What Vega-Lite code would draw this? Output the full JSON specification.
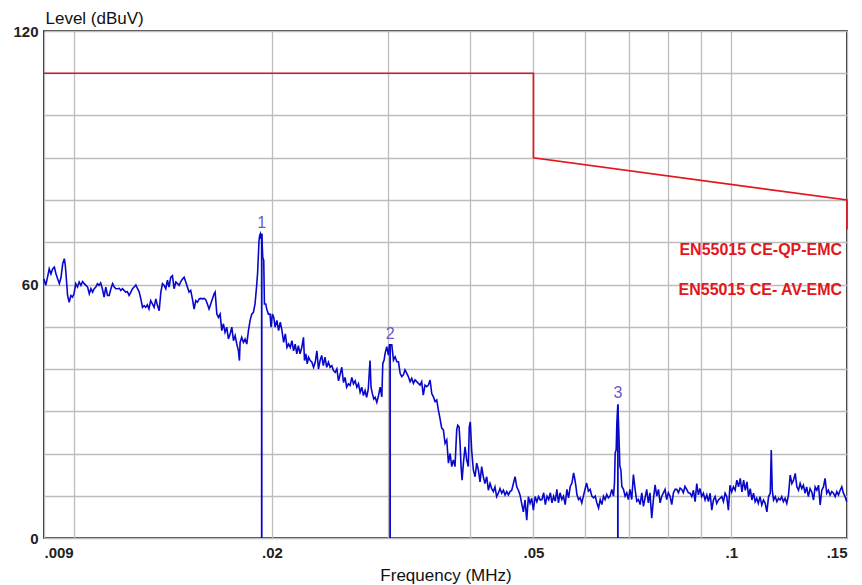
{
"$schema":"https://vega.github.io/schema/vega-lite/v6.json",
"width":803,"height":507,
"autosize":"none",
"padding":{"left":44,"top":31,"right":15,"bottom":47},
"background":"white",
"config":{"view":{"stroke":"#000000","strokeWidth":1.6},"font":"Liberation Sans"},
"datasets":{
"trace":[
{"f":0.009000,"v":61.3},{"f":0.009055,"v":59.8},{"f":0.009111,"v":61.7},{"f":0.009166,"v":63.7},{"f":0.009222,"v":62.5},{"f":0.009277,"v":63.7},{"f":0.009332,"v":64.1},{"f":0.009388,"v":62.5},{"f":0.009443,"v":61.3},{"f":0.009498,"v":60.2},{"f":0.009554,"v":61.7},{"f":0.009609,"v":64.9},{"f":0.009664,"v":66.1},{"f":0.009698,"v":64.5},{"f":0.009742,"v":60.6},{"f":0.009775,"v":57.4},{"f":0.009830,"v":55.8},{"f":0.009889,"v":57.4},{"f":0.009945,"v":57.0},{"f":0.009997,"v":57.8},
{"f":0.010058,"v":60.2},{"f":0.010119,"v":59.4},{"f":0.010180,"v":60.6},{"f":0.010242,"v":59.8},{"f":0.010303,"v":60.7},{"f":0.010364,"v":60.2},{"f":0.010425,"v":59.8},{"f":0.010486,"v":59.4},{"f":0.010548,"v":57.8},{"f":0.010609,"v":59.0},{"f":0.010670,"v":58.2},{"f":0.010732,"v":59.0},{"f":0.010793,"v":59.4},{"f":0.010854,"v":60.2},{"f":0.010915,"v":59.8},{"f":0.010977,"v":60.4},
{"f":0.011042,"v":59.0},{"f":0.011109,"v":57.0},{"f":0.011176,"v":59.4},{"f":0.011243,"v":57.4},{"f":0.011310,"v":57.4},{"f":0.011378,"v":59.0},{"f":0.011445,"v":60.2},{"f":0.011512,"v":59.4},{"f":0.011579,"v":59.0},{"f":0.011646,"v":59.0},{"f":0.011714,"v":59.1},{"f":0.011781,"v":58.6},{"f":0.011848,"v":59.0},{"f":0.011915,"v":58.6},{"f":0.011983,"v":58.2},
{"f":0.012054,"v":58.3},{"f":0.012127,"v":57.4},{"f":0.012200,"v":58.2},{"f":0.012272,"v":59.0},{"f":0.012345,"v":59.4},{"f":0.012418,"v":59.9},{"f":0.012490,"v":59.0},{"f":0.012563,"v":58.2},{"f":0.012636,"v":56.6},{"f":0.012709,"v":54.6},{"f":0.012782,"v":55.0},{"f":0.012855,"v":54.6},{"f":0.012927,"v":55.2},
{"f":0.013000,"v":54.2},{"f":0.013079,"v":56.2},{"f":0.013158,"v":55.4},{"f":0.013237,"v":54.6},{"f":0.013316,"v":56.6},{"f":0.013395,"v":55.0},{"f":0.013474,"v":53.8},{"f":0.013553,"v":58.2},{"f":0.013632,"v":60.2},{"f":0.013711,"v":59.8},{"f":0.013790,"v":59.0},{"f":0.013869,"v":61.0},{"f":0.013948,"v":59.4},
{"f":0.014029,"v":61.7},{"f":0.014113,"v":62.1},{"f":0.014198,"v":59.0},{"f":0.014283,"v":60.6},{"f":0.014367,"v":60.2},{"f":0.014452,"v":59.8},{"f":0.014537,"v":60.7},{"f":0.014621,"v":61.3},{"f":0.014706,"v":61.7},{"f":0.014790,"v":60.6},{"f":0.014875,"v":59.4},{"f":0.014959,"v":58.2},
{"f":0.015047,"v":58.6},{"f":0.015138,"v":56.6},{"f":0.015228,"v":54.2},{"f":0.015319,"v":56.2},{"f":0.015409,"v":55.8},{"f":0.015500,"v":56.6},{"f":0.015591,"v":56.7},{"f":0.015681,"v":56.6},{"f":0.015772,"v":56.7},{"f":0.015862,"v":56.4},{"f":0.015953,"v":55.4},
{"f":0.016046,"v":54.2},{"f":0.016143,"v":55.4},{"f":0.016239,"v":56.6},{"f":0.016335,"v":57.8},{"f":0.016393,"v":58.2},{"f":0.016490,"v":53.0},{"f":0.016586,"v":52.2},{"f":0.016682,"v":53.0},{"f":0.016779,"v":49.1},{"f":0.016875,"v":50.7},{"f":0.016971,"v":48.7},
{"f":0.017072,"v":49.9},{"f":0.017174,"v":47.1},{"f":0.017276,"v":48.3},{"f":0.017379,"v":49.9},{"f":0.017480,"v":46.7},{"f":0.017583,"v":47.9},{"f":0.017685,"v":45.9},{"f":0.017787,"v":44.3},{"f":0.017848,"v":42.0},{"f":0.017890,"v":46.3},{"f":0.017992,"v":47.5},
{"f":0.018099,"v":46.3},{"f":0.018206,"v":47.1},{"f":0.018314,"v":45.9},{"f":0.018421,"v":49.1},{"f":0.018529,"v":51.5},{"f":0.018637,"v":53.0},{"f":0.018744,"v":53.4},{"f":0.018852,"v":55.4},{"f":0.018959,"v":59.7},
{"f":0.019025,"v":62.9},{"f":0.019116,"v":70.4},{"f":0.019162,"v":71.6},{"f":0.019208,"v":72.0},{"f":0.019253,"v":70.8},{"f":0.019299,"v":72.0},{"f":0.019368,"v":66.4},{"f":0.019436,"v":65.7},{"f":0.019482,"v":55.4},{"f":0.019573,"v":55.4},{"f":0.019642,"v":54.2},{"f":0.019755,"v":53.0},{"f":0.019870,"v":53.0},{"f":0.019938,"v":49.9},
{"f":0.020032,"v":53.0},{"f":0.020130,"v":52.2},{"f":0.020228,"v":49.9},{"f":0.020351,"v":51.5},{"f":0.020473,"v":49.1},{"f":0.020596,"v":51.1},{"f":0.020718,"v":49.1},{"f":0.020840,"v":46.3},{"f":0.020963,"v":48.3},{"f":0.021086,"v":45.1},{"f":0.021208,"v":45.9},{"f":0.021331,"v":45.1},{"f":0.021453,"v":46.7},{"f":0.021576,"v":44.3},{"f":0.021699,"v":45.9},{"f":0.021821,"v":43.6},{"f":0.021943,"v":45.5},
{"f":0.022072,"v":43.6},{"f":0.022206,"v":45.1},{"f":0.022340,"v":47.5},{"f":0.022420,"v":42.0},{"f":0.022528,"v":43.6},{"f":0.022635,"v":41.2},{"f":0.022741,"v":42.8},{"f":0.022875,"v":42.0},{"f":0.023010,"v":41.6},{"f":0.023143,"v":40.4},{"f":0.023277,"v":41.6},{"f":0.023411,"v":44.3},{"f":0.023545,"v":40.0},{"f":0.023679,"v":42.0},{"f":0.023813,"v":43.2},{"f":0.023946,"v":40.8},
{"f":0.024088,"v":42.8},{"f":0.024234,"v":40.4},{"f":0.024380,"v":41.6},{"f":0.024526,"v":40.4},{"f":0.024673,"v":40.8},{"f":0.024818,"v":39.6},{"f":0.024965,"v":39.2},{"f":0.025111,"v":40.0},{"f":0.025257,"v":37.2},{"f":0.025404,"v":38.8},{"f":0.025550,"v":40.4},{"f":0.025696,"v":36.8},{"f":0.025842,"v":38.0},{"f":0.025988,"v":35.7},
{"f":0.026144,"v":36.5},{"f":0.026302,"v":36.1},{"f":0.026459,"v":38.0},{"f":0.026616,"v":36.5},{"f":0.026774,"v":37.2},{"f":0.026931,"v":35.7},{"f":0.027088,"v":36.5},{"f":0.027245,"v":34.5},{"f":0.027403,"v":35.7},{"f":0.027560,"v":33.7},{"f":0.027717,"v":34.9},{"f":0.027874,"v":33.3},
{"f":0.028034,"v":35.3},{"f":0.028204,"v":42.0},{"f":0.028306,"v":35.7},{"f":0.028442,"v":34.1},{"f":0.028579,"v":32.9},{"f":0.028714,"v":33.3},{"f":0.028885,"v":32.1},{"f":0.029054,"v":33.7},{"f":0.029224,"v":35.7},
{"f":0.029395,"v":33.4},{"f":0.029497,"v":41.3},{"f":0.029633,"v":42.1},{"f":0.029735,"v":43.7},{"f":0.029905,"v":45.3},{"f":0.030079,"v":43.3},{"f":0.030187,"v":45.7},{"f":0.030332,"v":45.7},{"f":0.030440,"v":45.7},{"f":0.030619,"v":42.1},{"f":0.030800,"v":42.9},{"f":0.030981,"v":41.7},
{"f":0.031160,"v":41.7},{"f":0.031341,"v":39.0},{"f":0.031521,"v":38.2},{"f":0.031701,"v":38.6},{"f":0.031881,"v":39.8},{"f":0.032066,"v":39.0},{"f":0.032258,"v":38.2},{"f":0.032451,"v":37.0},{"f":0.032644,"v":37.8},{"f":0.032836,"v":36.6},{"f":0.033029,"v":37.4},{"f":0.033222,"v":37.0},{"f":0.033414,"v":36.6},{"f":0.033607,"v":36.2},{"f":0.033800,"v":37.0},{"f":0.033992,"v":33.8},
{"f":0.034196,"v":36.2},{"f":0.034401,"v":35.8},{"f":0.034605,"v":36.2},{"f":0.034810,"v":37.4},{"f":0.035015,"v":34.2},{"f":0.035218,"v":33.4},{"f":0.035423,"v":32.3},{"f":0.035628,"v":32.7},{"f":0.035832,"v":30.3},
{"f":0.036039,"v":28.3},{"f":0.036256,"v":26.0},{"f":0.036471,"v":25.6},{"f":0.036688,"v":22.4},{"f":0.036905,"v":23.2},{"f":0.037121,"v":17.7},{"f":0.037338,"v":20.0},{"f":0.037555,"v":16.9},{"f":0.037770,"v":18.5},{"f":0.037986,"v":16.9},
{"f":0.038214,"v":25.6},{"f":0.038350,"v":26.7},{"f":0.038531,"v":26.3},{"f":0.038667,"v":22.4},{"f":0.038803,"v":16.9},{"f":0.038939,"v":13.7},{"f":0.039120,"v":17.7},{"f":0.039347,"v":21.6},{"f":0.039574,"v":18.5},{"f":0.039800,"v":16.9},{"f":0.039936,"v":26.3},
{"f":0.040076,"v":27.5},{"f":0.040269,"v":20.8},{"f":0.040508,"v":16.1},{"f":0.040748,"v":14.5},{"f":0.040988,"v":17.7},{"f":0.041227,"v":16.1},{"f":0.041468,"v":13.3},{"f":0.041708,"v":16.9},{"f":0.041947,"v":14.5},
{"f":0.042195,"v":12.9},{"f":0.042447,"v":14.5},{"f":0.042696,"v":11.3},{"f":0.042947,"v":12.9},{"f":0.043199,"v":11.7},{"f":0.043448,"v":11.0},{"f":0.043699,"v":12.1},{"f":0.043950,"v":9.8},
{"f":0.044211,"v":10.6},{"f":0.044476,"v":11.7},{"f":0.044741,"v":10.6},{"f":0.045005,"v":11.3},{"f":0.045270,"v":10.2},{"f":0.045535,"v":11.0},{"f":0.045798,"v":10.2},
{"f":0.046066,"v":11.0},{"f":0.046339,"v":11.3},{"f":0.046611,"v":12.9},{"f":0.046885,"v":14.5},{"f":0.047159,"v":12.1},{"f":0.047431,"v":11.3},{"f":0.047705,"v":10.2},{"f":0.047978,"v":8.2},
{"f":0.048264,"v":6.2},{"f":0.048552,"v":9.0},{"f":0.048840,"v":4.2},{"f":0.049126,"v":9.8},{"f":0.049414,"v":8.2},{"f":0.049702,"v":9.4},{"f":0.049988,"v":6.6},
{"f":0.050294,"v":9.8},{"f":0.050601,"v":8.6},{"f":0.050906,"v":9.8},{"f":0.051213,"v":9.0},{"f":0.051520,"v":9.1},{"f":0.051825,"v":10.7},{"f":0.052132,"v":7.9},{"f":0.052439,"v":9.9},{"f":0.052744,"v":9.1},{"f":0.053051,"v":10.7},{"f":0.053358,"v":8.3},{"f":0.053663,"v":9.9},{"f":0.053971,"v":8.7},{"f":0.054277,"v":11.5},{"f":0.054582,"v":8.3},{"f":0.054890,"v":10.7},
{"f":0.055215,"v":9.1},{"f":0.055548,"v":9.9},{"f":0.055884,"v":7.9},{"f":0.056219,"v":11.5},{"f":0.056552,"v":9.5},{"f":0.056888,"v":12.2},{"f":0.057223,"v":13.0},{"f":0.057556,"v":15.4},{"f":0.057757,"v":14.2},{"f":0.058026,"v":12.2},{"f":0.058227,"v":10.3},{"f":0.058560,"v":9.1},{"f":0.058896,"v":9.5},{"f":0.059231,"v":8.3},{"f":0.059564,"v":9.9},{"f":0.059900,"v":11.5},
{"f":0.060257,"v":13.0},{"f":0.060621,"v":11.1},{"f":0.060987,"v":11.5},{"f":0.061353,"v":9.9},{"f":0.061717,"v":9.5},{"f":0.062083,"v":9.9},{"f":0.062450,"v":8.3},{"f":0.062814,"v":7.1},{"f":0.063180,"v":9.1},{"f":0.063546,"v":7.9},{"f":0.063910,"v":9.9},{"f":0.064276,"v":9.1},{"f":0.064642,"v":10.3},
{"f":0.065007,"v":9.5},{"f":0.065401,"v":9.9},{"f":0.065795,"v":11.5},{"f":0.066186,"v":9.9},{"f":0.066422,"v":13.0},{"f":0.066580,"v":20.1},{"f":0.066816,"v":20.9},{"f":0.066974,"v":27.2},{"f":0.067210,"v":31.6},{"f":0.067445,"v":24.9},{"f":0.067681,"v":17.0},{"f":0.067917,"v":16.2},{"f":0.068153,"v":12.2},{"f":0.068544,"v":11.5},{"f":0.068938,"v":9.9},{"f":0.069332,"v":10.7},{"f":0.069724,"v":9.1},
{"f":0.070127,"v":11.5},{"f":0.070551,"v":9.1},{"f":0.070972,"v":15.0},{"f":0.071396,"v":11.5},{"f":0.071820,"v":8.7},{"f":0.072241,"v":9.1},{"f":0.072665,"v":7.9},{"f":0.073089,"v":10.7},{"f":0.073510,"v":7.5},{"f":0.073934,"v":9.5},{"f":0.074358,"v":11.5},{"f":0.074779,"v":8.3},
{"f":0.075217,"v":10.7},{"f":0.075671,"v":4.7},{"f":0.076122,"v":9.1},{"f":0.076576,"v":12.6},{"f":0.077030,"v":9.9},{"f":0.077481,"v":11.5},{"f":0.077934,"v":8.3},{"f":0.078388,"v":9.9},{"f":0.078839,"v":10.7},{"f":0.079293,"v":11.5},{"f":0.079747,"v":9.1},
{"f":0.080211,"v":10.7},{"f":0.080694,"v":9.9},{"f":0.081176,"v":7.9},{"f":0.081656,"v":10.7},{"f":0.082139,"v":11.5},{"f":0.082621,"v":11.5},{"f":0.083101,"v":10.7},{"f":0.083584,"v":11.8},{"f":0.084066,"v":11.5},{"f":0.084546,"v":10.7},
{"f":0.085031,"v":12.2},{"f":0.085543,"v":11.5},{"f":0.086052,"v":10.7},{"f":0.086564,"v":10.6},{"f":0.087076,"v":9.8},{"f":0.087585,"v":11.3},{"f":0.088098,"v":8.6},{"f":0.088610,"v":12.9},{"f":0.089119,"v":10.2},{"f":0.089632,"v":11.7},
{"f":0.090153,"v":9.8},{"f":0.090692,"v":10.6},{"f":0.091234,"v":9.0},{"f":0.091776,"v":10.2},{"f":0.092315,"v":8.6},{"f":0.092857,"v":10.6},{"f":0.093400,"v":6.6},{"f":0.093939,"v":9.0},{"f":0.094481,"v":9.8},
{"f":0.095024,"v":8.2},{"f":0.095588,"v":9.0},{"f":0.096156,"v":9.4},{"f":0.096724,"v":9.8},{"f":0.097289,"v":8.6},{"f":0.097857,"v":10.6},{"f":0.098425,"v":9.8},{"f":0.098989,"v":6.6},{"f":0.099558,"v":12.5},
{"f":0.100136,"v":10.9},{"f":0.100746,"v":12.1},{"f":0.101360,"v":11.3},{"f":0.101974,"v":13.7},{"f":0.102585,"v":12.1},{"f":0.103198,"v":14.1},{"f":0.103812,"v":10.9},{"f":0.104423,"v":13.7},{"f":0.105037,"v":11.3},{"f":0.105650,"v":13.3},{"f":0.106262,"v":9.8},{"f":0.106875,"v":11.7},{"f":0.107489,"v":9.0},{"f":0.108100,"v":10.6},{"f":0.108714,"v":8.6},{"f":0.109327,"v":9.4},{"f":0.109939,"v":8.2},
{"f":0.110605,"v":9.8},{"f":0.111278,"v":7.8},{"f":0.111947,"v":9.0},{"f":0.112621,"v":8.2},{"f":0.113294,"v":6.2},{"f":0.113963,"v":9.8},{"f":0.114637,"v":10.6},{"f":0.115040,"v":20.8},{"f":0.115443,"v":11.3},{"f":0.115979,"v":9.0},{"f":0.116653,"v":9.8},{"f":0.117326,"v":8.6},{"f":0.117995,"v":9.4},{"f":0.118669,"v":9.0},{"f":0.119342,"v":9.8},
{"f":0.120013,"v":8.6},{"f":0.120742,"v":9.4},{"f":0.121472,"v":8.2},{"f":0.122197,"v":10.2},{"f":0.122926,"v":14.9},{"f":0.123655,"v":12.9},{"f":0.124380,"v":13.7},{"f":0.125109,"v":15.3},{"f":0.125839,"v":12.1},{"f":0.126564,"v":11.3},{"f":0.127293,"v":12.9},{"f":0.128022,"v":11.7},{"f":0.128747,"v":12.5},{"f":0.129476,"v":10.6},
{"f":0.130223,"v":12.1},{"f":0.131009,"v":9.8},{"f":0.131801,"v":11.7},{"f":0.132592,"v":10.9},{"f":0.133379,"v":9.0},{"f":0.134170,"v":12.1},{"f":0.134962,"v":11.3},{"f":0.135748,"v":12.5},{"f":0.136540,"v":7.8},{"f":0.137331,"v":11.3},{"f":0.138118,"v":12.1},{"f":0.138910,"v":14.1},{"f":0.139701,"v":10.6},
{"f":0.140523,"v":11.3},{"f":0.141371,"v":10.2},{"f":0.142218,"v":11.0},{"f":0.143061,"v":10.6},{"f":0.143909,"v":9.8},{"f":0.144756,"v":11.0},{"f":0.145599,"v":10.2},{"f":0.146447,"v":11.3},{"f":0.147294,"v":12.1},{"f":0.148137,"v":10.6},{"f":0.148985,"v":9.8},{"f":0.149832,"v":8.6}
],
"limit":[{"i":0,"f":0.009,"v":110},{"i":1,"f":0.05,"v":110},{"i":2,"f":0.05,"v":90},{"i":3,"f":0.15,"v":80},{"i":4,"f":0.15,"v":73}],
"markers":[{"f":0.019299,"v":72.0,"n":"1"},{"f":0.030259,"v":45.7,"n":"2"},{"f":0.06721,"v":31.6,"n":"3"}],
"labels":[{"f":0.14746,"v":67.0,"t":"EN55015 CE-QP-EMC"},{"f":0.14746,"v":57.5,"t":"EN55015 CE- AV-EMC"}]
},
"encoding":{
"x":{"field":"f","type":"quantitative",
 "scale":{"type":"log","domain":[0.009,0.15],"nice":false},
 "axis":{"title":"Frequency (MHz)","values":[0.009,0.01,0.02,0.03,0.04,0.05,0.06,0.07,0.08,0.09,0.1,0.15],
  "labelExpr":"abs(datum.value-0.009)<1e-7 ? '.009' : abs(datum.value-0.02)<1e-7 ? '.02' : abs(datum.value-0.05)<1e-7 ? '.05' : abs(datum.value-0.1)<1e-7 ? '.1' : abs(datum.value-0.15)<1e-7 ? '.15' : ''",
  "labelFlush":true,"labelOverlap":false,"grid":true,"gridColor":"#bdbdbd","gridWidth":1.3,"ticks":false,"tickSize":0,"domain":false,
  "labelPadding":7,"labelFont":"Liberation Sans","labelFontWeight":"bold","labelFontSize":15,"labelColor":"#222222",
  "titleFont":"Liberation Sans","titleFontSize":17,"titleFontWeight":"normal","titleColor":"#111111","titlePadding":7}},
"y":{"field":"v","type":"quantitative",
 "scale":{"domain":[0,120],"nice":false,"zero":false},
 "axis":{"title":"Level (dBuV)","values":[0,10,20,30,40,50,60,70,80,90,100,110,120],
  "labelExpr":"datum.value == 0 || datum.value == 60 || datum.value == 120 ? datum.label : ''",
  "labelOverlap":false,"grid":true,"gridColor":"#bdbdbd","gridWidth":1.3,"ticks":false,"tickSize":0,"domain":false,
  "labelPadding":6,"labelFont":"Liberation Sans","labelFontWeight":"bold","labelFontSize":15,"labelColor":"#222222",
  "titleFont":"Liberation Sans","titleFontSize":17,"titleFontWeight":"normal","titleColor":"#111111",
  "titleAngle":0,"titleAlign":"left","titleBaseline":"alphabetic","titleX":1,"titleY":-8}}
},
"layer":[
{"data":{"name":"trace"},"mark":{"type":"line","color":"#0808cc","strokeWidth":1.6}},
{"data":{"name":"limit"},"mark":{"type":"line","color":"#e3161b","strokeWidth":1.7},"encoding":{"order":{"field":"i","type":"quantitative"}}},
{"data":{"name":"markers"},"mark":{"type":"rule","color":"#0808cc","strokeWidth":1.8},"encoding":{"y2":{"datum":0}}},
{"data":{"name":"markers"},"mark":{"type":"text","color":"#6a58cc","fontSize":16,"font":"Liberation Sans","baseline":"bottom","dy":-3},"encoding":{"text":{"field":"n"}}},
{"data":{"name":"labels"},"mark":{"type":"text","color":"#e3161b","fontSize":16,"fontWeight":"bold","font":"Liberation Sans","align":"right","baseline":"alphabetic"},"encoding":{"text":{"field":"t"}}}
]
}
